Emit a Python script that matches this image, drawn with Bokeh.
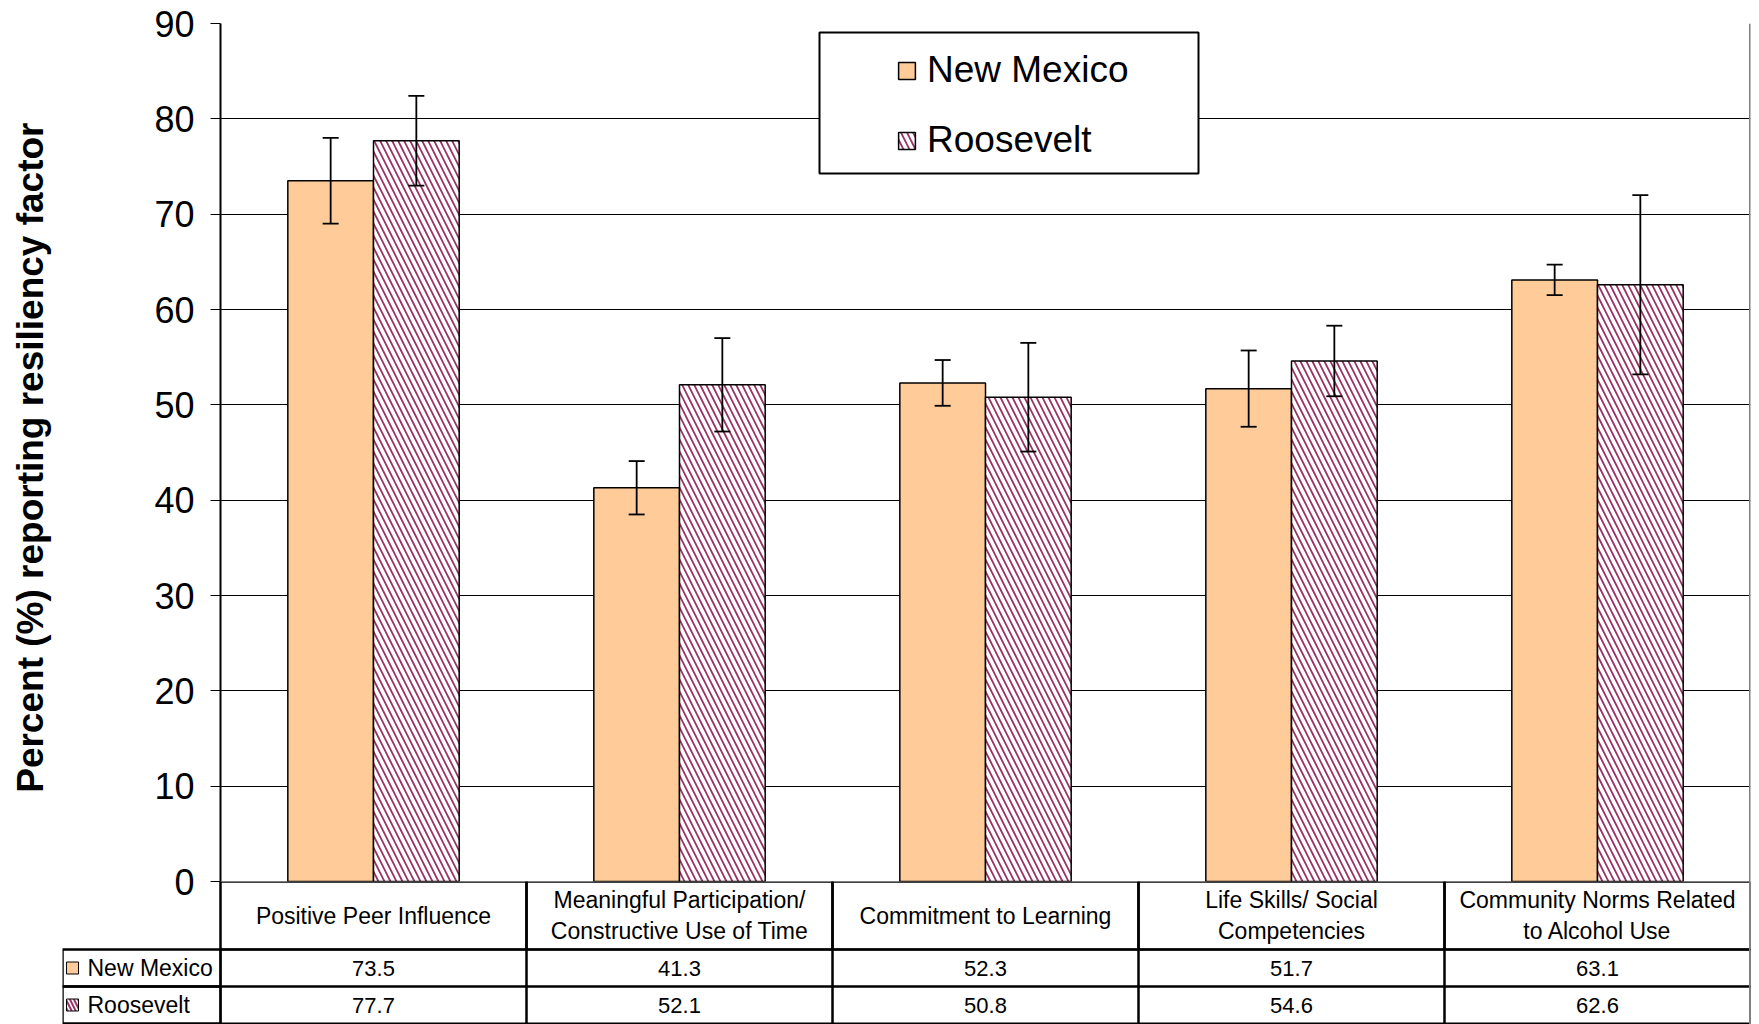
from bokeh.plotting import figure
from bokeh.models import (Range1d, FixedTicker, ColumnDataSource, Whisker, TeeHead,
                          Legend, LegendItem, BoxAnnotation, Span, Grid)
from bokeh.layouts import column
from bokeh.embed import file_html
from bokeh.resources import INLINE
from bokeh.core.properties import value

# ---------------- data ----------------
categories = [
    "Positive Peer Influence",
    "Meaningful Participation/\nConstructive Use of Time",
    "Commitment to Learning",
    "Life Skills/ Social\nCompetencies",
    "Community Norms Related\nto Alcohol Use",
]
series_names = ["New Mexico", "Roosevelt"]
new_mexico = [73.5, 41.3, 52.3, 51.7, 63.1]
roosevelt = [77.7, 52.1, 50.8, 54.6, 62.6]
new_mexico_err = [4.5, 2.8, 2.4, 4.0, 1.6]
roosevelt_err = [4.7, 4.9, 5.7, 3.7, 9.4]
y_ticks = [0, 10, 20, 30, 40, 50, 60, 70, 80, 90]
y_label = "Percent (%)  reporting resiliency factor"

# ---------------- style / layout ----------------
FONT = "Liberation Sans"
NM_COLOR = "#FFCC99"
R_HATCH = "#993366"
W = 1759
LEFT = 220          # frame left edge (px)
RIGHT = 9
TOP = 23
ZERO_Y = 881        # pixel row of y = 0
OVERLAP = 28        # room under the frame for the "0" tick label
CHART_H = ZERO_Y + OVERLAP
TABLE_H = 1024 - ZERO_Y
TABLE_LEFT = 62
HEADER_H = 68
ROW_H = 37.0
FRAME_W = W - LEFT - RIGHT
n = len(categories)
PX_X = FRAME_W / float(n)
PX_Y = (ZERO_Y - TOP) / 90.0
BAR_W = 0.28

# ---------------- chart ----------------
p = figure(width=W, height=CHART_H, x_range=Range1d(0, n), y_range=Range1d(0, 90),
           output_backend="svg", toolbar_location=None, x_axis_location=None,
           min_border_left=LEFT, min_border_right=RIGHT, min_border_top=TOP,
           min_border_bottom=OVERLAP, outline_line_color=None,
           background_fill_color="white", frame_align=False)

ticker = FixedTicker(ticks=y_ticks)
p.yaxis.ticker = ticker
for g in p.select(type=Grid):
    if g.dimension == 0:
        g.visible = False
    else:
        g.ticker = ticker
        g.grid_line_color = "black"
        g.grid_line_width = 1
p.yaxis.axis_line_color = "black"
p.yaxis.axis_line_width = 2
p.yaxis.major_tick_out = 10
p.yaxis.major_tick_in = 0
p.yaxis.minor_tick_out = 0
p.yaxis.minor_tick_in = 0
p.yaxis.major_tick_line_color = "black"
p.yaxis.major_label_text_font = FONT
p.yaxis.major_label_text_font_size = "36px"
p.yaxis.major_label_text_color = "black"
p.yaxis.major_label_standoff = 16
p.yaxis.axis_label = y_label
p.yaxis.axis_label_text_font = FONT
p.yaxis.axis_label_text_font_style = "bold"
p.yaxis.axis_label_text_font_size = "37px"
p.yaxis.axis_label_text_color = "black"
p.yaxis.axis_label_standoff = 100

xc = [i + 0.5 for i in range(n)]
x_nm = [x - BAR_W / 2 for x in xc]
x_r = [x + BAR_W / 2 for x in xc]

src_nm = ColumnDataSource(dict(x=x_nm, top=new_mexico,
                               upper=[v + e for v, e in zip(new_mexico, new_mexico_err)],
                               lower=[v - e for v, e in zip(new_mexico, new_mexico_err)]))
src_r = ColumnDataSource(dict(x=x_r, top=roosevelt,
                              upper=[v + e for v, e in zip(roosevelt, roosevelt_err)],
                              lower=[v - e for v, e in zip(roosevelt, roosevelt_err)]))

r_nm = p.vbar(x="x", top="top", bottom=0, width=BAR_W, source=src_nm,
              fill_color=NM_COLOR, line_color="black", line_width=1.5)
r_r = p.vbar(x="x", top="top", bottom=0, width=BAR_W, source=src_r,
             fill_color="white", line_color="black", line_width=1.5,
             hatch_pattern="\\", hatch_color=R_HATCH, hatch_scale=12, hatch_weight=1.8)

for src in (src_nm, src_r):
    w = Whisker(source=src, base="x", upper="upper", lower="lower",
                line_color="black", line_width=1.8, level="annotation",
                upper_head=TeeHead(size=16, line_width=1.8, line_color="black"),
                lower_head=TeeHead(size=16, line_width=1.8, line_color="black"))
    p.add_layout(w)

# legend frame
box = BoxAnnotation(left=(819 - LEFT) / PX_X, right=(1198 - LEFT) / PX_X,
                    top=(ZERO_Y - 32) / PX_Y, bottom=(ZERO_Y - 173) / PX_Y,
                    fill_color="white", fill_alpha=1.0, line_color="black",
                    line_width=2, line_alpha=1.0)
p.add_layout(box)

legend = Legend(items=[LegendItem(label=series_names[0], renderers=[r_nm]),
                       LegendItem(label=series_names[1], renderers=[r_r])],
                location=(676, 720), orientation="vertical",
                label_text_font=FONT, label_text_font_size="37px",
                label_text_color="black", glyph_width=21, glyph_height=21,
                label_standoff=10, padding=0, spacing=28, margin=0,
                border_line_color=None, background_fill_alpha=0)
p.add_layout(legend, "center")

p.add_layout(Span(location=n, dimension="height", line_color="#808080", line_width=3))

# ---------------- data table (header + rows) ----------------
x_left = -(LEFT - TABLE_LEFT) / PX_X
head_top = 2 + HEADER_H / ROW_H
q = figure(width=W, height=TABLE_H, x_range=Range1d(x_left, n),
           y_range=Range1d(head_top - TABLE_H / ROW_H, head_top),
           output_backend="svg", toolbar_location=None, x_axis_location=None,
           y_axis_location=None, min_border_left=TABLE_LEFT, min_border_right=RIGHT,
           min_border_top=0, min_border_bottom=0, outline_line_color=None,
           frame_align=False, border_fill_alpha=0, background_fill_alpha=0,
           margin=(-OVERLAP, 0, 0, 0))
q.grid.visible = False

# header row: category names
q.quad(left=list(range(n)), right=list(range(1, n + 1)), bottom=2, top=head_top,
       fill_color=None, line_color="black", line_width=2.5)
q.text(x=xc, y=[(2 + head_top) / 2] * n, text=categories, text_align="center",
       text_baseline="middle", text_font=value(FONT), text_font_size="23px",
       text_color="black", text_line_height=1.2)

rows_y = [1.5, 0.5]
q.quad(left=[x_left, x_left], right=[0, 0], bottom=[1, 0], top=[2, 1],
       fill_color=None, line_color="black", line_width=2.5)
q.quad(left=list(range(n)) * 2, right=list(range(1, n + 1)) * 2,
       bottom=[1] * n + [0] * n, top=[2] * n + [1] * n,
       fill_color=None, line_color="black", line_width=2)

vals_text = [f"{v:.1f}" for v in new_mexico] + [f"{v:.1f}" for v in roosevelt]
q.text(x=xc * 2, y=[rows_y[0]] * n + [rows_y[1]] * n, text=vals_text,
       text_align="center", text_baseline="middle", text_font=value(FONT),
       text_font_size="22px", text_color="black")

sw_x = (72 - LEFT) / PX_X
q.scatter(x=[sw_x], y=[rows_y[0]], marker="square", size=12,
          fill_color=NM_COLOR, line_color="black", line_width=1)
q.scatter(x=[sw_x], y=[rows_y[1]], marker="square", size=12,
          fill_color="white", line_color="black", line_width=1,
          hatch_pattern="\\", hatch_color=R_HATCH, hatch_scale=8, hatch_weight=2)
q.text(x=[(87 - LEFT) / PX_X] * 2, y=rows_y, text=series_names,
       text_align="left", text_baseline="middle", text_font=value(FONT),
       text_font_size="23px", text_color="black")
q.add_layout(Span(location=n, dimension="height", line_color="#808080", line_width=3))

layout = column(p, q, spacing=0)
open("out.html", "w").write(file_html(layout, INLINE))
